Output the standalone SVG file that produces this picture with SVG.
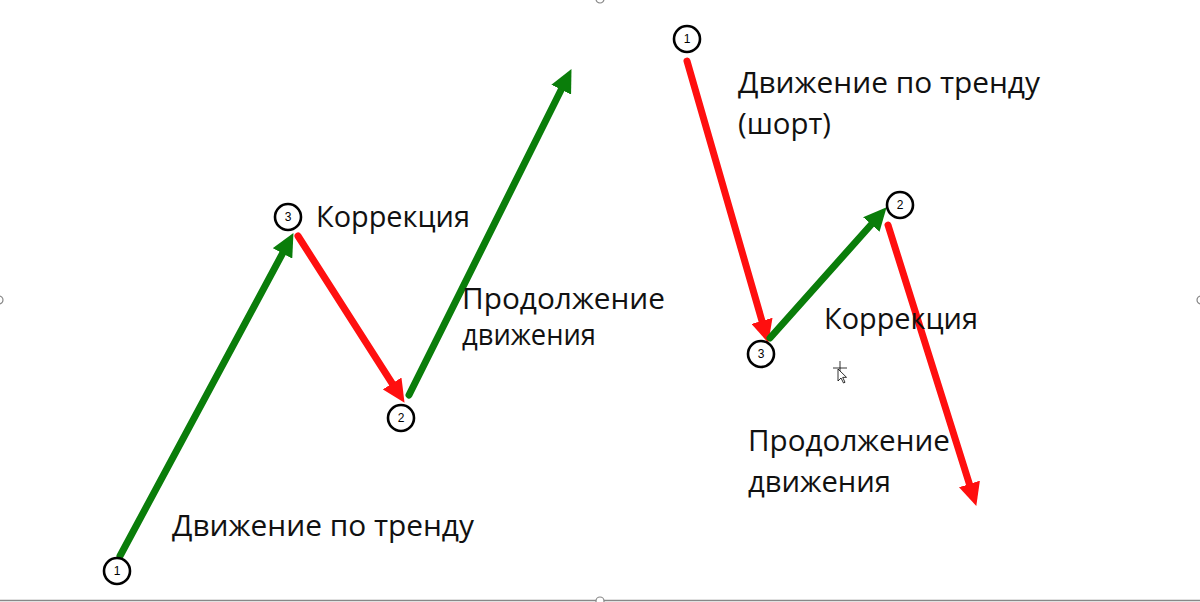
<svg xmlns="http://www.w3.org/2000/svg" width="1200" height="602" viewBox="0 0 1200 602">
<style>
.g{stroke:#0a7d0a;stroke-width:7;stroke-linecap:round;fill:none}
.r{stroke:#ff0f0f;stroke-width:7;stroke-linecap:round;fill:none}
.n circle{fill:#fff;stroke:#000;stroke-width:2.6}
.n text{font-family:"Liberation Sans",Arial,sans-serif;font-size:12px;text-anchor:middle;fill:#000}
.t{font-family:"Open Sans","Noto Sans",sans-serif;font-size:29px;fill:#111}
.h{fill:#fff;stroke:#888;stroke-width:1.2}
</style>
<defs>
<marker id="ag" markerUnits="userSpaceOnUse" markerWidth="24" markerHeight="22" refX="6" refY="11" orient="auto"><path d="M0,0 L23,11 L0,22 z" fill="#0a7d0a"/></marker>
<marker id="ar" markerUnits="userSpaceOnUse" markerWidth="24" markerHeight="22" refX="6" refY="11" orient="auto"><path d="M0,0 L23,11 L0,22 z" fill="#ff0f0f"/></marker>
</defs>
<rect width="1200" height="602" fill="#fff"/>
<line x1="0" y1="600.5" x2="1200" y2="600.5" stroke="#888" stroke-width="1.5"/>
<g id="handles">
<circle class="h" cx="600" cy="-1" r="4"/>
<circle class="h" cx="600" cy="601" r="4"/>
<circle class="h" cx="-1" cy="300" r="4"/>
<circle class="h" cx="1201" cy="300" r="4"/>
</g>
<g id="connectors">
<line class="g" x1="120" y1="556" x2="285.4" y2="248.1" marker-end="url(#ag)"/>
<line class="r" x1="298" y1="236" x2="395.4" y2="388.5" marker-end="url(#ar)"/>
<line class="g" x1="409" y1="395" x2="563.9" y2="84.3" marker-end="url(#ag)"/>
<line class="r" x1="687" y1="61" x2="763.6" y2="326.6" marker-end="url(#ar)"/>
<line class="g" x1="770" y1="338" x2="875.3" y2="220" marker-end="url(#ag)"/>
<line class="r" x1="888" y1="225" x2="971.2" y2="489.7" marker-end="url(#ar)"/>
</g>
<g id="node-l1" class="n"><circle cx="117" cy="571" r="13"/><text x="117" y="575">1</text></g>
<g id="node-l3" class="n"><circle cx="288" cy="217" r="13"/><text x="288" y="221">3</text></g>
<g id="node-l2" class="n"><circle cx="401" cy="418" r="13"/><text x="401" y="422">2</text></g>
<g id="node-r1" class="n"><circle cx="687" cy="39" r="13"/><text x="687" y="43">1</text></g>
<g id="node-r3" class="n"><circle cx="761" cy="354" r="13"/><text x="761" y="358">3</text></g>
<g id="node-r2" class="n"><circle cx="900" cy="205" r="13"/><text x="900" y="209">2</text></g>
<g id="labels">
<text class="t" x="316" y="227" textLength="154" lengthAdjust="spacingAndGlyphs">Коррекция</text>
<text class="t" x="462" y="309" textLength="203" lengthAdjust="spacingAndGlyphs">Продолжение</text>
<text class="t" x="462" y="345" textLength="134" lengthAdjust="spacingAndGlyphs">движения</text>
<text class="t" x="172" y="536" textLength="302" lengthAdjust="spacingAndGlyphs">Движение по тренду</text>
<text class="t" x="738" y="93" textLength="302" lengthAdjust="spacingAndGlyphs">Движение по тренду</text>
<text class="t" x="738" y="134" textLength="93" lengthAdjust="spacingAndGlyphs">(шорт)</text>
<text class="t" x="824" y="329" textLength="154" lengthAdjust="spacingAndGlyphs">Коррекция</text>
<text class="t" x="748" y="451" textLength="202" lengthAdjust="spacingAndGlyphs">Продолжение</text>
<text class="t" x="748" y="492" textLength="143" lengthAdjust="spacingAndGlyphs">движения</text>
</g>
<g id="cursor" fill="#000" stroke="#000" stroke-width="0.8">
<path d="M833,368 L847,368 M840,361 L840,375" fill="none"/>
<path d="M838,369 L838,381 L841,378 L843.5,383 L845,382.3 L842.7,377.4 L846.5,377.3 z" fill="#fff"/>
</g>
</svg>
